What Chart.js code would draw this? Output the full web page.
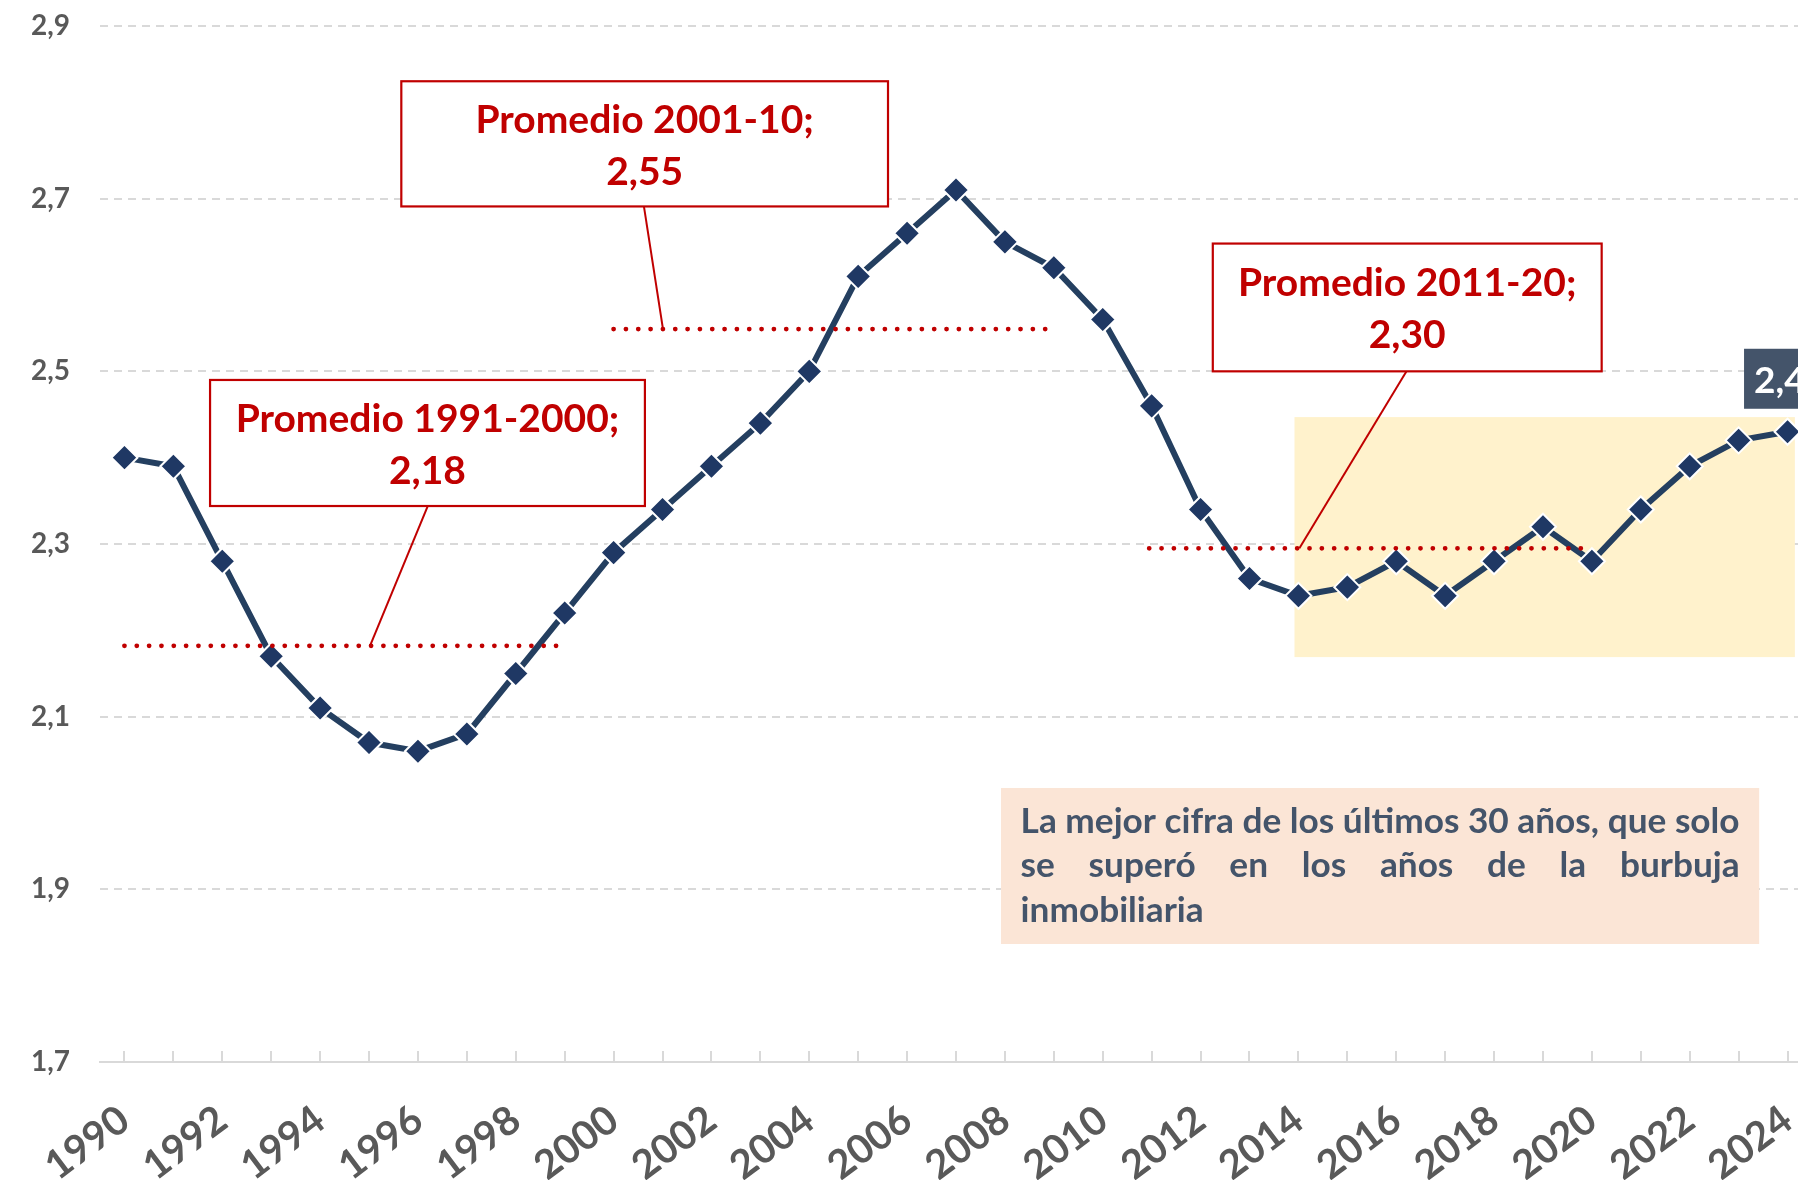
<!DOCTYPE html>
<html><head><meta charset="utf-8">
<script src="https://cdn.jsdelivr.net/npm/chart.js@4.4.1/dist/chart.umd.min.js"></script>
<style>
html,body{margin:0;padding:0;overflow:hidden;background:#fff;}
#wrap{width:1830px;height:1180px;position:relative;}
</style></head><body>
<div id="wrap"><canvas id="c"></canvas></div>
<script>
// ---- data ----
const years = ['1990','1991','1992','1993','1994','1995','1996','1997','1998','1999',
  '2000','2001','2002','2003','2004','2005','2006','2007','2008','2009',
  '2010','2011','2012','2013','2014','2015','2016','2017','2018','2019',
  '2020','2021','2022','2023','2024'];
const values = [2.40,2.39,2.28,2.17,2.11,2.07,2.06,2.08,2.15,2.22,
  2.29,2.34,2.39,2.44,2.50,2.61,2.66,2.71,2.65,2.62,
  2.56,2.46,2.34,2.26,2.24,2.25,2.28,2.24,2.28,2.32,
  2.28,2.34,2.39,2.42,2.43];
const yMin = 1.7, yMax = 2.9, yStep = 0.2;
const averageValues = [2.182, 2.549, 2.295];
const averageTitles = ['Promedio 1991-2000;', 'Promedio 2001-10;', 'Promedio 2011-20;'];
const averageTexts = ['2,18', '2,55', '2,30'];
const noteLines = ['La mejor cifra de los últimos 30 años, que solo', 'se superó en los años de la burbuja', 'inmobiliaria'];

// ---- annotation layout (category index / value coordinates) ----
const layoutCfg = {
  highlight: {x0: 23.92, x1: 34.15, y0: 2.447, y1: 2.169, color: '#FFF2CC'},
  note: {x0: 17.92, x1: 33.42, y0: 2.0174, y1: 1.8367, color: '#FBE5D6', pad: 19.6, baselines: [45, 89, 133.6], textColor: '#44546A'},
  avgSpans: [[0, 8.86], [10, 18.85], [20.95, 29.83]],
  callouts: [
    {x0: 1.75, x1: 10.64, y0: 2.49, y1: 2.344, lx0: 6.20, lx1: 5.02},
    {x0: 5.66, x1: 15.61, y0: 2.836, y1: 2.691, lx0: 10.62, lx1: 11.01},
    {x0: 22.25, x1: 30.20, y0: 2.648, y1: 2.50, lx0: 26.21, lx1: 24.02}
  ],
  red: '#C00000',
  calloutFont: 'bold 39px Lato',
  calloutBaselines: [52, 104]
};

const fmt = v => v.toFixed(2).replace('.', ',');

const annotations = {
  id: 'annotations',
  beforeDatasetsDraw(chart) {
    const ctx = chart.ctx, xs = chart.scales.x, ys = chart.scales.y;
    const ca = chart.chartArea;
    ctx.save();
    // highlight box
    const h = layoutCfg.highlight;
    ctx.fillStyle = h.color;
    ctx.fillRect(xs.getPixelForValue(h.x0), ys.getPixelForValue(h.y0),
      xs.getPixelForValue(h.x1) - xs.getPixelForValue(h.x0), ys.getPixelForValue(h.y1) - ys.getPixelForValue(h.y0));
    // note box
    const n = layoutCfg.note;
    const nx0 = xs.getPixelForValue(n.x0), nx1 = xs.getPixelForValue(n.x1);
    const ny0 = ys.getPixelForValue(n.y0), ny1 = ys.getPixelForValue(n.y1);
    ctx.fillStyle = n.color;
    ctx.fillRect(nx0, ny0, nx1 - nx0, ny1 - ny0);
    const tw = nx1 - nx0 - 2 * n.pad;
    ctx.font = 'bold 28px Lato';
    const size = 28 * tw / ctx.measureText(noteLines[0]).width;
    ctx.font = 'bold ' + size.toFixed(2) + 'px Lato';
    ctx.fillStyle = n.textColor; ctx.textBaseline = 'alphabetic'; ctx.textAlign = 'left';
    noteLines.forEach((line, i) => {
      const y = ny0 + n.baselines[i];
      if (i === noteLines.length - 1) { ctx.fillText(line, nx0 + n.pad, y); return; }
      const words = line.split(' ');
      const wsum = words.reduce((s, w) => s + ctx.measureText(w).width, 0);
      const gap = (tw - wsum) / (words.length - 1);
      let x = nx0 + n.pad;
      words.forEach(w => { ctx.fillText(w, x, y); x += ctx.measureText(w).width + gap; });
    });
    // small tick marks on x axis (inside)
    ctx.strokeStyle = '#D9D9D9'; ctx.lineWidth = 2;
    for (let i = 0; i < years.length; i++) {
      const x = Math.round(xs.getPixelForValue(i));
      ctx.beginPath(); ctx.moveTo(x, ca.bottom - 11); ctx.lineTo(x, ca.bottom); ctx.stroke();
    }
    ctx.restore();
  },
  afterDatasetsDraw(chart) {
    const ctx = chart.ctx, xs = chart.scales.x, ys = chart.scales.y;
    ctx.save();
    // dotted averages
    ctx.strokeStyle = layoutCfg.red; ctx.lineWidth = 4.8; ctx.lineCap = 'round';
    ctx.setLineDash([0.001, 12.33]);
    averageValues.forEach((v, i) => {
      const [a, b] = layoutCfg.avgSpans[i];
      const y = ys.getPixelForValue(v);
      ctx.beginPath(); ctx.moveTo(xs.getPixelForValue(a), y); ctx.lineTo(xs.getPixelForValue(b), y); ctx.stroke();
    });
    ctx.setLineDash([]); ctx.lineCap = 'butt';
    // callouts
    layoutCfg.callouts.forEach((c, i) => {
      const x0 = xs.getPixelForValue(c.x0), x1 = xs.getPixelForValue(c.x1);
      const y0 = ys.getPixelForValue(c.y0), y1 = ys.getPixelForValue(c.y1);
      ctx.strokeStyle = layoutCfg.red; ctx.lineWidth = 2;
      ctx.beginPath();
      ctx.moveTo(xs.getPixelForValue(c.lx0), y1);
      ctx.lineTo(xs.getPixelForValue(c.lx1), ys.getPixelForValue(averageValues[i]));
      ctx.stroke();
      ctx.fillStyle = '#FFFFFF';
      ctx.fillRect(x0, y0, x1 - x0, y1 - y0);
      ctx.lineWidth = 2.2;
      ctx.strokeRect(x0, y0, x1 - x0, y1 - y0);
      ctx.fillStyle = layoutCfg.red; ctx.font = layoutCfg.calloutFont;
      ctx.textAlign = 'center'; ctx.textBaseline = 'alphabetic';
      const cx = (x0 + x1) / 2;
      ctx.fillText(averageTitles[i], cx, y0 + layoutCfg.calloutBaselines[0]);
      ctx.fillText(averageTexts[i], cx, y0 + layoutCfg.calloutBaselines[1]);
    });
    // data label of last point
    const meta = chart.getDatasetMeta(0);
    const last = meta.data[meta.data.length - 1];
    const txt = fmt(values[values.length - 1]);
    ctx.font = 'bold 37px Lato';
    const w = ctx.measureText(txt).width + 20;
    const bx = last.x - 43.5, by = last.y - 23 - 60;
    ctx.fillStyle = '#44546A';
    ctx.fillRect(bx, by, w, 60);
    ctx.fillStyle = '#FFFFFF'; ctx.textAlign = 'left'; ctx.textBaseline = 'middle';
    ctx.fillText(txt, bx + 10, by + 32);
    ctx.restore();
  }
};

function build() {
  new Chart(document.getElementById('c'), {
    type: 'line',
    data: {
      labels: years,
      datasets: [{
        data: values,
        borderColor: '#243F60',
        borderWidth: 6,
        pointStyle: 'rectRot',
        pointRadius: 13,
        pointHoverRadius: 13,
        pointBackgroundColor: '#1F3864',
        pointBorderColor: '#FFFFFF',
        pointBorderWidth: 2,
        tension: 0,
        clip: false
      }]
    },
    options: {
      responsive: true,
      maintainAspectRatio: false,
      animation: false,
      events: [],
      layout: {autoPadding: false, padding: {top: 26, right: 18, bottom: 0, left: 0}},
      plugins: {legend: {display: false}, tooltip: {enabled: false}},
      scales: {
        x: {
          type: 'category',
          offset: true,
          grid: {display: false, drawTicks: false},
          border: {display: true, color: '#D9D9D9', width: 2},
          ticks: {
            autoSkip: false, minRotation: 37, maxRotation: 37, padding: 34,
            color: '#595959', font: {family: 'Lato', weight: 'bold', size: 40},
            callback: (v, i) => (i % 2 === 0 ? years[i] : '')
          },
          afterFit: s => { s.height = 118; s.paddingLeft = 0; s.paddingRight = 0; }
        },
        y: {
          min: yMin, max: yMax,
          grid: {color: '#D9D9D9', lineWidth: 2, drawTicks: false},
          border: {display: false, dash: [8, 6]},
          ticks: {
            stepSize: yStep, padding: 30, color: '#595959',
            font: {family: 'Lato', weight: 'bold', size: 28},
            callback: v => v.toFixed(1).replace('.', ',')
          },
          afterFit: s => { s.width = 100; s.paddingTop = 0; s.paddingBottom = 0; }
        }
      }
    },
    plugins: [annotations]
  });
}
const fontsReady = document.fonts && document.fonts.load
  ? Promise.all([document.fonts.load('bold 28px Lato'), document.fonts.load('bold 40px Lato')]).catch(() => {})
  : Promise.resolve();
fontsReady.then(build, build);
</script>
</body></html>
